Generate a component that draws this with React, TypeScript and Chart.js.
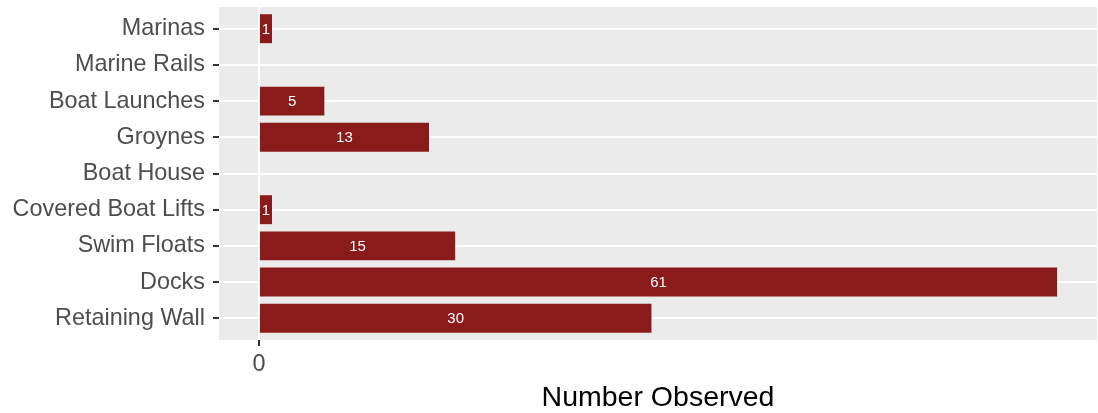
import React, { useEffect, useRef } from "react";
import { Chart, registerables } from "chart.js";

Chart.register(...registerables);

const CATEGORIES = [
  "Marinas",
  "Marine Rails",
  "Boat Launches",
  "Groynes",
  "Boat House",
  "Covered Boat Lifts",
  "Swim Floats",
  "Docks",
  "Retaining Wall",
];
const COUNTS = [1, 0, 5, 13, 0, 1, 15, 61, 30];
const X_TICKS = [0];
const X_TITLE = "Number Observed";

const FONT = "'Liberation Sans', Arial, 'DejaVu Sans', sans-serif";

const panelBg = {
  id: "panelBg",
  beforeDraw(chart: any) {
    const { ctx, chartArea } = chart;
    ctx.save();
    ctx.fillStyle = "#EBEBEB";
    ctx.fillRect(chartArea.left, chartArea.top, chartArea.right - chartArea.left, chartArea.bottom - chartArea.top);
    ctx.restore();
  },
};

const barLabels = {
  id: "barLabels",
  afterDatasetsDraw(chart: any) {
    const { ctx } = chart;
    const meta = chart.getDatasetMeta(0);
    ctx.save();
    ctx.font = `15px ${FONT}`;
    ctx.fillStyle = "#FFFFFF";
    ctx.textAlign = "center";
    ctx.textBaseline = "middle";
    meta.data.forEach((bar: any, i: number) => {
      const v = COUNTS[i];
      if (!v) return;
      const p = bar.getProps(["x", "y", "base"], true);
      ctx.fillText(String(v), (p.x + p.base) / 2, p.y + 1);
    });
    ctx.restore();
  },
};

export default function App() {
  const canvasRef = useRef<HTMLCanvasElement | null>(null);

  useEffect(() => {
    document.body.style.margin = "0";
    const canvas = canvasRef.current;
    if (!canvas) return;
    const chart = new Chart(canvas, {
      type: "bar",
      data: {
        datasets: [
          {
            data: CATEGORIES.map((_, i) => ({ x: COUNTS[i], y: i })),
            backgroundColor: "#8B1A1A",
            borderWidth: 0,
            categoryPercentage: 1,
            barPercentage: 0.8,
          },
        ],
      },
      options: {
        indexAxis: "y",
        animation: false,
        responsive: true,
        maintainAspectRatio: false,
        layout: { padding: { top: 7, right: 1, left: 0, bottom: 0 } },
        plugins: {
          legend: { display: false },
          tooltip: { enabled: false },
        },
        scales: {
          y: {
            type: "linear",
            reverse: true,
            offset: false,
            min: -0.6,
            max: CATEGORIES.length - 1 + 0.6,
            afterBuildTicks: (scale: any) => {
              scale.ticks = CATEGORIES.map((_, i) => ({ value: i }));
            },
            afterFit: (scale: any) => {
              scale.width = 219;
              scale.paddingTop = 0;
              scale.paddingBottom = 0;
            },
            border: { display: false },
            grid: {
              offset: false,
              color: "#FFFFFF",
              lineWidth: 2,
              tickColor: "#333333",
              tickLength: 6,
              tickWidth: 2,
            },
            ticks: {
              autoSkip: false,
              padding: 8,
              color: "#4D4D4D",
              font: { family: FONT, size: 23.4 },
              callback: (v: any) => CATEGORIES[v as number] ?? "",
            },
          },
          x: {
            type: "linear",
            min: -3.05,
            max: 64.05,
            afterBuildTicks: (scale: any) => {
              scale.ticks = X_TICKS.map((v) => ({ value: v }));
            },
            afterFit: (scale: any) => {
              scale.height = 73;
              scale.paddingLeft = 0;
              scale.paddingRight = 0;
            },
            border: { display: false },
            grid: {
              color: "#FFFFFF",
              lineWidth: 2,
              tickColor: "#333333",
              tickLength: 6,
              tickWidth: 2,
            },
            ticks: {
              padding: 5,
              color: "#4D4D4D",
              font: { family: FONT, size: 23.4 },
              maxRotation: 0,
            },
            title: {
              display: true,
              text: X_TITLE,
              color: "#000000",
              font: { family: FONT, size: 28.5, lineHeight: 1.05 },
              padding: { top: 4, bottom: 0 },
            },
          },
        },
      },
      plugins: [panelBg, barLabels],
    } as any);
    return () => chart.destroy();
  }, []);

  return (
    <div style={{ width: 1098, height: 413, position: "relative" }}>
      <canvas ref={canvasRef} />
    </div>
  );
}
